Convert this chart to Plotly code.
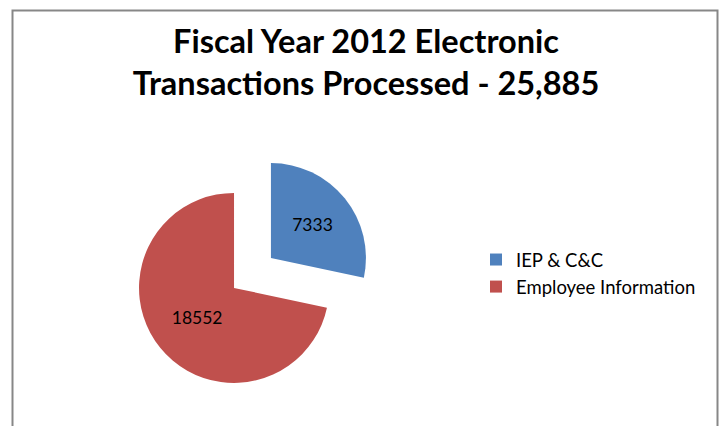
import plotly.graph_objects as go

# Transaction counts by category, FY2012
categories = ["IEP & C&C", "Employee Information"]
transactions = [7333, 18552]
slice_colors = ["#4F81BD", "#C0504D"]

W, H = 722, 426
title_text = "Fiscal Year 2012 Electronic<br>Transactions Processed - 25,885"

fig = go.Figure()

fig.add_trace(go.Pie(
    labels=categories,
    values=transactions,
    marker=dict(colors=slice_colors, line=dict(width=0)),
    sort=False,
    direction="clockwise",
    rotation=0,
    pull=[0.25, 0.25],
    texttemplate="%{value:d}",
    textposition="inside",
    insidetextorientation="horizontal",
    textfont=dict(family="Lato", size=17.5, color="#000000"),
    domain=dict(x=[0.1852, 0.5142], y=[0.0804, 0.6379]),
    hoverinfo="label+value",
))

# outer chart-area frame (bottom edge runs off the page)
fig.add_shape(
    type="rect", xref="paper", yref="paper",
    x0=12.5 / W, x1=717.5 / W, y0=-0.1, y1=1 - 10.5 / H,
    line=dict(color="#878787", width=2), fillcolor="rgba(0,0,0,0)",
)

fig.update_layout(
    width=W, height=H,
    margin=dict(l=0, r=0, t=0, b=0),
    paper_bgcolor="white",
    plot_bgcolor="white",
    title=dict(
        text=title_text,
        x=366 / W, xanchor="center",
        y=1 - 53 / H, yanchor="top", yref="container",
        font=dict(family="Lato", size=32.5, color="#000000", weight="bold"),
    ),
    legend=dict(
        x=476 / W, xanchor="left",
        y=1 - 241 / H, yanchor="top",
        font=dict(family="Lato", size=18.5, color="#000000"),
        bgcolor="rgba(0,0,0,0)",
        itemwidth=30,
    ),
    showlegend=True,
)

fig.write_html("out.html")
